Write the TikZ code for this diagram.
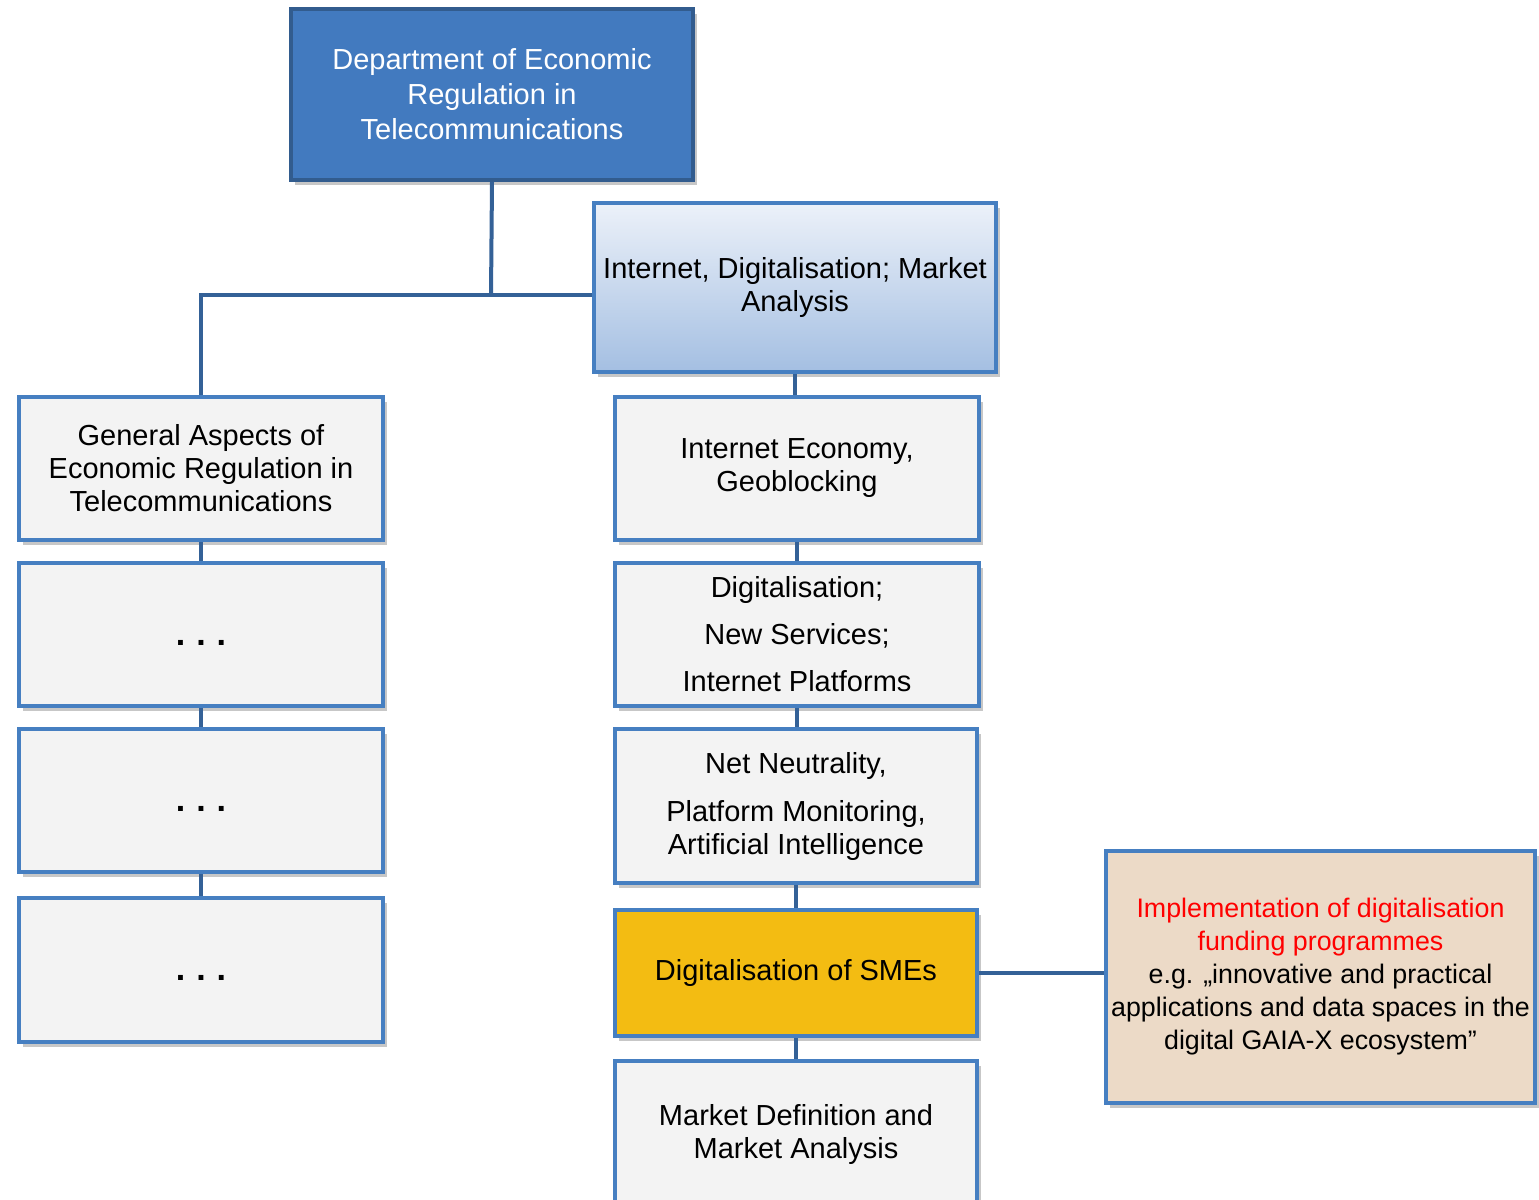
\documentclass[tikz,border=0pt]{standalone}
\usepackage{fontspec}
\setmainfont{Liberation Sans}
\usetikzlibrary{shadows}

\definecolor{deptblue}{RGB}{66,122,191}
\definecolor{deptedge}{RGB}{50,92,142}
\definecolor{boxedge}{RGB}{70,127,193}
\definecolor{connblue}{RGB}{52,97,151}
\definecolor{boxgray}{RGB}{243,243,243}
\definecolor{gradtop}{RGB}{236,241,249}
\definecolor{gradbot}{RGB}{164,191,226}
\definecolor{smeyellow}{RGB}{243,188,18}
\definecolor{fundpeach}{RGB}{236,218,199}

\tikzset{
  orgbox/.style={rectangle, draw=boxedge, line width=2pt, fill=boxgray, align=center,
    font=\fontsize{14.5}{16.5}\selectfont,
    drop shadow={shadow xshift=2pt, shadow yshift=-2.5pt, opacity=0.22, fill=black}},
  dotsbox/.style={orgbox, minimum width=182pt, minimum height=71.5pt,
    font=\fontsize{17}{20}\selectfont\bfseries, text height=10.5pt, text depth=0pt},
  conn/.style={draw=connblue, line width=2pt}
}

\begin{document}
\begin{tikzpicture}[x=0.5pt,y=0.5pt,yscale=-1,xscale=1]
\useasboundingbox (0,0) rectangle (1539,1200);
\clip (0,0) rectangle (1539,1200);

%Department
\node[orgbox, draw=deptedge, fill=deptblue, text=white, minimum width=201pt, minimum height=85.5pt,
  font=\fontsize{14.5}{17.5}\selectfont] (topdept) at (492,94.5)
  {Department of Economic\\Regulation in\\Telecommunications};

%Unit with gradient
\node[orgbox, top color=gradtop, bottom color=gradbot, minimum width=201pt, minimum height=84.5pt] (inetdig) at (795,287.5)
  {Internet, Digitalisation; Market\\Analysis};

%Left column
\node[orgbox, minimum width=182pt, minimum height=71.5pt] (genasp) at (201,468.5)
  {General Aspects of\\Economic Regulation in\\Telecommunications};
\node[dotsbox] (dotsa) at (201,634.5) {.\hspace{5.5pt}.\hspace{5.5pt}.};
\node[dotsbox] (dotsb) at (201,800.5) {.\hspace{5.5pt}.\hspace{5.5pt}.};
\node[dotsbox, minimum height=72pt] (dotsc) at (201,970) {.\hspace{5.5pt}.\hspace{5.5pt}.};

%Right column
\node[orgbox, minimum width=182pt, minimum height=71.5pt] (ineteco) at (797,468.5)
  {Internet Economy,\\Geoblocking};
\node[orgbox, minimum width=182pt, minimum height=71.5pt] (digserv) at (797,634.5)
  {Digitalisation;\\[7pt]New Services;\\[7pt]Internet Platforms};
\node[orgbox, minimum width=181pt, minimum height=77pt] (netneut) at (796,806)
  {Net Neutrality,\\[7.5pt]Platform Monitoring,\\Artificial Intelligence};
\node[orgbox, fill=smeyellow, minimum width=181pt, minimum height=63pt] (digsme) at (796,973)
  {Digitalisation of SMEs};
\node[orgbox, minimum width=181pt, minimum height=73pt] (mktdef) at (796,1134)
  {Market Definition and\\Market Analysis};

%Funding
\node[orgbox, fill=fundpeach, minimum width=214.5pt, minimum height=126pt, inner xsep=1pt,
  font=\fontsize{13.4}{16.5}\selectfont] (implfund) at (1320.5,977)
  {\textcolor{red}{Implementation of digitalisation}\\
   \textcolor{red}{funding programmes}\\
   e.g. „innovative and practical\\
   applications and data spaces in the\\
   digital GAIA-X ecosystem”};

%Connectors
\coordinate (junc) at (491,295);
\draw[conn] (topdept.south) -- (junc);
\draw[conn] (genasp.north) |- (junc -| inetdig.west);
\draw[conn] (inetdig.south) -- (inetdig.south |- ineteco.north);
\draw[conn] (ineteco.south) -- (digserv.north);
\draw[conn] (digserv.south) -- (digserv.south |- netneut.north);
\draw[conn] (netneut.south) -- (digsme.north);
\draw[conn] (digsme.south) -- (mktdef.north);
\draw[conn] (digsme.east) -- (digsme.east -| implfund.west);
\draw[conn] (genasp.south) -- (dotsa.north);
\draw[conn] (dotsa.south) -- (dotsb.north);
\draw[conn] (dotsb.south) -- (dotsc.north);

\end{tikzpicture}
\end{document}
